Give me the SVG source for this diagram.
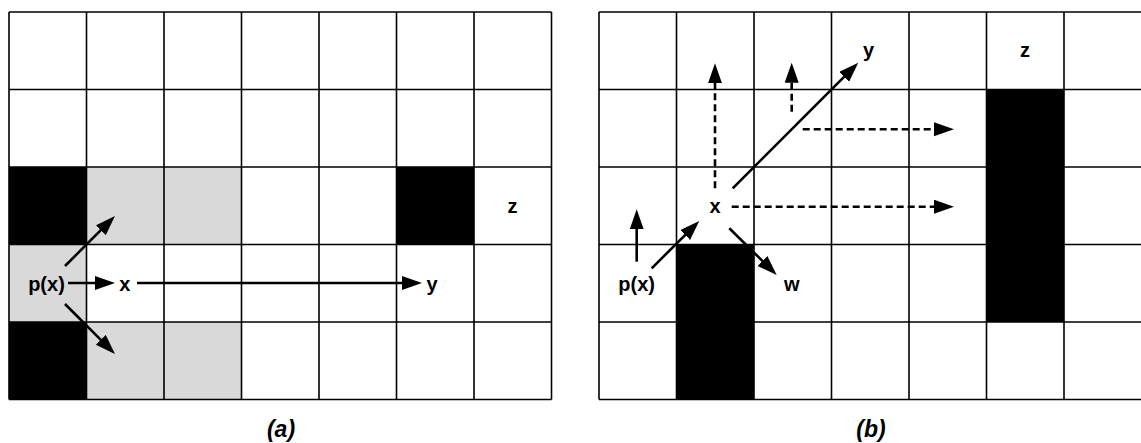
<svg xmlns="http://www.w3.org/2000/svg" width="1141" height="443" viewBox="0 0 1141 443">
  <style>
    .grid { stroke: #000; stroke-width: 1.6; fill: none; }
    .blk { fill: #000; }
    .gry { fill: #d9d9d9; }
    .lbl { font-family: "Liberation Sans", Arial, sans-serif; font-weight: bold; font-size: 20px; fill: #000; text-anchor: middle; }
    .cap { font-family: "Liberation Sans", Arial, sans-serif; font-weight: bold; font-style: italic; font-size: 23px; fill: #000; text-anchor: middle; }
    .arr { stroke: #000; stroke-width: 2.6; fill: none; marker-end: url(#ah); }
    .dash { stroke-dasharray: 7 4; }
  </style>
  <defs>
    <marker id="ah" markerUnits="userSpaceOnUse" markerWidth="22" markerHeight="16" refX="12" refY="7" orient="auto" viewBox="0 0 22 16">
      <path d="M0,0 L20,7 L0,14 Z" fill="#000"/>
    </marker>
  </defs>
  <rect width="1141" height="443" fill="#fff"/>

  <g id="grid-a">
    <rect class="gry" x="86.5" y="167" width="155" height="77.5"/>
    <rect class="gry" x="9" y="244.5" width="77.5" height="77.5"/>
    <rect class="gry" x="86.5" y="322" width="155" height="77.5"/>
    <rect class="blk" x="9" y="167" width="77.5" height="77.5"/>
    <rect class="blk" x="9" y="322" width="77.5" height="77.5"/>
    <rect class="blk" x="396.5" y="167" width="77.5" height="77.5"/>
    <path class="grid" d="M9,12 H551.5 M9,89.5 H551.5 M9,167 H551.5 M9,244.5 H551.5 M9,322 H551.5 M9,399.5 H551.5 M9,12 V399.5 M86.5,12 V399.5 M164,12 V399.5 M241.5,12 V399.5 M319,12 V399.5 M396.5,12 V399.5 M474,12 V399.5 M551.5,12 V399.5"/>
  </g>

  <g id="grid-b">
    <rect class="blk" x="676.5" y="244.5" width="77.5" height="155"/>
    <rect class="blk" x="986.5" y="89.5" width="77.5" height="232.5"/>
    <path class="grid" d="M599,12 H1141.5 M599,89.5 H1141.5 M599,167 H1141.5 M599,244.5 H1141.5 M599,322 H1141.5 M599,399.5 H1141.5 M599,12 V399.5 M676.5,12 V399.5 M754,12 V399.5 M831.5,12 V399.5 M909,12 V399.5 M986.5,12 V399.5 M1064,12 V399.5"/>
  </g>

  <g id="connectors">
    <line class="arr" x1="68" y1="283" x2="107" y2="283"/>
    <line class="arr" x1="137" y1="283" x2="414" y2="283"/>
    <line class="arr" x1="65" y1="266" x2="109.3" y2="221.7"/>
    <line class="arr" x1="65" y1="304" x2="109.3" y2="348.3"/>

    <line class="arr" x1="636.7" y1="261.7" x2="636.7" y2="217.3"/>
    <line class="arr" x1="651.7" y1="268.3" x2="693.6" y2="226.6"/>
    <line class="arr dash" x1="715" y1="188.3" x2="715" y2="71.3"/>
    <line class="arr dash" x1="791.7" y1="111.7" x2="791.7" y2="70.7"/>
    <line class="arr" x1="732.7" y1="188.3" x2="852.6" y2="68.4"/>
    <line class="arr dash" x1="802.7" y1="129.3" x2="946" y2="129.3"/>
    <line class="arr dash" x1="731.7" y1="206.7" x2="946" y2="206.7"/>
    <line class="arr" x1="729.3" y1="228.3" x2="771" y2="269.4"/>
  </g>

  <g id="node-a-px"><text class="lbl" x="46.5" y="291">p(x)</text></g>
  <g id="node-a-x"><text class="lbl" x="124.7" y="291">x</text></g>
  <g id="node-a-y"><text class="lbl" x="432" y="291">y</text></g>
  <g id="node-a-z"><text class="lbl" x="512.5" y="212.5">z</text></g>

  <g id="node-b-px"><text class="lbl" x="636.7" y="291">p(x)</text></g>
  <g id="node-b-x"><text class="lbl" x="715" y="213">x</text></g>
  <g id="node-b-y"><text class="lbl" x="868.5" y="57">y</text></g>
  <g id="node-b-w"><text class="lbl" x="791.7" y="291">w</text></g>
  <g id="node-b-z"><text class="lbl" x="1025" y="56.5">z</text></g>

  <g id="caption-a"><text class="cap" x="281" y="437">(a)</text></g>
  <g id="caption-b"><text class="cap" x="871" y="437">(b)</text></g>
</svg>
